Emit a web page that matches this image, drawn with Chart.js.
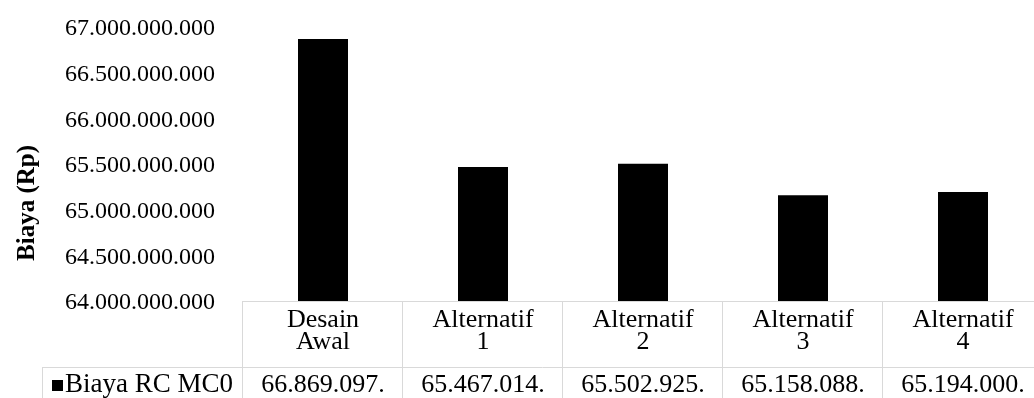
<!DOCTYPE html>
<html>
<head>
<meta charset="utf-8">
<script src="https://cdn.jsdelivr.net/npm/chart.js@4.4.0/dist/chart.umd.min.js"></script>
<style>
  html, body { margin: 0; padding: 0; background: #fff; }
  #wrap { width: 1034px; height: 398px; overflow: hidden; position: relative; }
  #pemuat { position: absolute; left: 0; top: 0; color: transparent; font-family: 'Liberation Serif', serif; font-size: 25px; }
</style>
</head>
<body>
<div id="wrap">
  <canvas id="biayaChart" width="1044" height="398"></canvas>
  <span id="pemuat">Biaya 67.000 <b>Biaya (Rp)</b></span>
</div>
<script>
// data
const kategori = ['Desain Awal', 'Alternatif 1', 'Alternatif 2', 'Alternatif 3', 'Alternatif 4'];
const biayaRC = [66869097000, 65467014000, 65502925000, 65158088000, 65194000000];
const namaSeri = 'Biaya RC MC0';
const judulSumbuY = 'Biaya (Rp)';
const yMin = 64000000000;
const yMax = 67000000000;
const yStep = 500000000;

function formatTitik(n) {
  return Math.round(n).toString().replace(/\B(?=(\d{3})+(?!\d))/g, '.');
}

const garis = '#d9d9d9';
const fontSerif = "'Liberation Serif', serif";

// tabel data di bawah grafik + judul sumbu Y
const tabelPlugin = {
  id: 'tabelData',
  afterDraw(chart) {
    const ctx = chart.ctx;
    const xs = chart.scales.x;
    const area = chart.chartArea;
    const lebar = xs.getPixelForValue(1) - xs.getPixelForValue(0);
    const kiri = area.left;
    const kanan = kiri + lebar * kategori.length;
    const atas = area.bottom;
    const baris2 = atas + 66;
    const kiriLegenda = 42;

    ctx.save();
    ctx.strokeStyle = garis;
    ctx.lineWidth = 1;
    ctx.beginPath();
    ctx.moveTo(kiri, atas + 0.5);
    ctx.lineTo(kanan, atas + 0.5);
    ctx.moveTo(kiriLegenda, baris2 + 0.5);
    ctx.lineTo(kanan, baris2 + 0.5);
    ctx.moveTo(kiriLegenda + 0.5, baris2);
    ctx.lineTo(kiriLegenda + 0.5, chart.height);
    for (let i = 0; i <= kategori.length; i++) {
      const x = Math.round(kiri + lebar * i) - 0.5;
      ctx.moveTo(x, atas);
      ctx.lineTo(x, chart.height);
    }
    ctx.stroke();

    ctx.fillStyle = '#000';
    ctx.textAlign = 'center';
    ctx.textBaseline = 'alphabetic';
    ctx.font = '26px ' + fontSerif;
    kategori.forEach((k, i) => {
      const cx = xs.getPixelForValue(i);
      k.split(' ').forEach((s, j) => {
        ctx.fillText(s, cx, atas + 26 + j * 21.5);
      });
      // nilai dibungkus seperti di Excel
      const teks = formatTitik(biayaRC[i]);
      const potong = teks.lastIndexOf('.') + 1;
      ctx.fillText(teks.slice(0, potong), cx, baris2 + 25);
      ctx.fillText(teks.slice(potong), cx, baris2 + 52);
    });

    // legenda baris
    ctx.fillRect(52, baris2 + 13, 11, 11);
    ctx.textAlign = 'left';
    ctx.font = '27px ' + fontSerif;
    ctx.fillText(namaSeri, 65, baris2 + 25);

    // judul sumbu Y
    ctx.translate(34, 203);
    ctx.rotate(-Math.PI / 2);
    ctx.textAlign = 'center';
    ctx.font = 'bold 25px ' + fontSerif;
    ctx.fillText(judulSumbuY, 0, 0);
    ctx.restore();
  }
};

const ctx = document.getElementById('biayaChart').getContext('2d');
const grafik = new Chart(ctx, {
  type: 'bar',
  data: {
    labels: kategori,
    datasets: [
      {
        label: namaSeri,
        data: biayaRC,
        backgroundColor: '#000000',
        borderWidth: 0,
        categoryPercentage: 1,
        barPercentage: 0.3125,
      },
    ],
  },
  options: {
    responsive: false,
    animation: false,
    layout: {
      padding: { top: 27, right: 1, bottom: 97, left: 0 },
    },
    plugins: {
      legend: { display: false },
      tooltip: { enabled: false },
    },
    scales: {
      x: {
        display: false,
      },
      y: {
        min: yMin,
        max: yMax,
        grid: { display: false, drawTicks: false },
        border: { display: false },
        ticks: {
          stepSize: yStep,
          padding: 28,
          labelOffset: 2,
          color: '#000',
          font: { family: fontSerif, size: 24 },
          callback: (v) => formatTitik(v),
        },
        afterFit: (scale) => {
          scale.width = 243;
          scale.paddingTop = 0;
          scale.paddingBottom = 0;
        },
      },
    },
  },
  plugins: [tabelPlugin],
});

// gambar ulang beberapa kali, kalau font baru siap belakangan
let hitung = 0;
const ulang = setInterval(() => {
  grafik.update('none');
  hitung++;
  if (hitung > 12) clearInterval(ulang);
}, 250);
</script>
</body>
</html>
